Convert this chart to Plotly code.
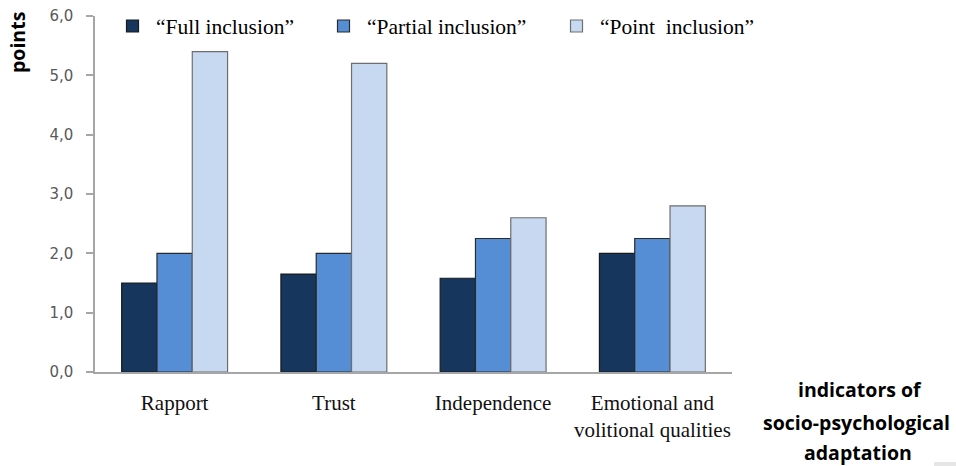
import plotly.graph_objects as go

categories = ["Rapport", "Trust", "Independence", "Emotional and<br>volitional qualities"]
full_inclusion = [1.5, 1.65, 1.58, 2.0]
partial_inclusion = [2.0, 2.0, 2.25, 2.25]
point_inclusion = [5.4, 5.2, 2.6, 2.8]
series_names = ["“Full inclusion”", "“Partial inclusion”", "“Point\u00a0 inclusion”"]
series_values = [full_inclusion, partial_inclusion, point_inclusion]
colors = ["#17365D", "#558ED5", "#C6D9F1"]
line_colors = ["#1a1a1a", "#2b2b2b", "#6e6e6e"]
legend_ids = ["legend", "legend2", "legend3"]
legend_x_px = [109, 320, 553]
y_ticks = [0, 1, 2, 3, 4, 5, 6]
x_title_lines = ["indicators of", "socio-psychological", "adaptation"]

SERIF = "Liberation Serif, Times New Roman, serif"
BOLD = "Open Sans, Arial, sans-serif"

fig = go.Figure()
for name, vals, c, lc, lg in zip(series_names, series_values, colors, line_colors, legend_ids):
    fig.add_trace(go.Bar(
        x=categories, y=vals, name=name,
        marker=dict(color=c, line=dict(color=lc, width=1.2)),
        legend=lg,
        hoverinfo="x+y+name",
    ))

W, H = 956, 466
L, R, T, B = 95, 224, 16, 94
pw, ph = W - L - R, H - T - B

def px_x(x):
    return (x - L) / pw

def px_y(y):
    return (H - B - y) / ph

annotations = [
    dict(text="<b>points</b>", x=px_x(17), y=px_y(43), xref="paper", yref="paper",
         textangle=-90, showarrow=False, font=dict(family=BOLD, size=19.5, color="#000000"),
         xanchor="center", yanchor="middle"),
]
for line, (cx, cy) in zip(x_title_lines, [(860, 389), (856, 422), (858, 452)]):
    annotations.append(dict(text="<b>%s</b>" % line, x=px_x(cx), y=px_y(cy),
                            xref="paper", yref="paper", showarrow=False,
                            font=dict(family=BOLD, size=19.5, color="#000000"),
                            xanchor="center", yanchor="middle"))

legend_common = dict(orientation="h", xref="container", yref="container",
                     y=1 - 26 / H, xanchor="left", yanchor="middle", itemwidth=37,
                     font=dict(family=SERIF, size=21.5, color="#000000"),
                     bgcolor="rgba(0,0,0,0)")
legends = {lg: dict(legend_common, x=xp / W) for lg, xp in zip(legend_ids, legend_x_px)}

fig.update_layout(
    width=W, height=H,
    margin=dict(l=L, r=R, t=T, b=B, pad=0, autoexpand=False),
    paper_bgcolor="white", plot_bgcolor="white",
    barmode="group", bargap=0.335, bargroupgap=0,
    separators=",.",
    showlegend=True,
    xaxis=dict(showline=True, linecolor="#a6a6a6", linewidth=1.5, ticks="",
               showgrid=False, zeroline=False,
               tickfont=dict(family=SERIF, size=21, color="#111111"),
               ticklabelstandoff=11),
    yaxis=dict(range=[0, 6], tickvals=y_ticks, tickformat=".1f",
               showline=True, linecolor="#a6a6a6", linewidth=1.5,
               ticks="outside", ticklen=7, tickcolor="#a6a6a6", tickwidth=1.5,
               showgrid=False, zeroline=False,
               tickfont=dict(family="DejaVu Sans, Verdana, sans-serif", size=15, color="#595959"),
               ticklabelstandoff=10),
    annotations=annotations,
    shapes=[dict(type="rect", xref="paper", yref="paper",
                 x0=px_x(934), x1=px_x(956), y0=px_y(462), y1=px_y(466),
                 fillcolor="#e6e6e6", line=dict(width=0))],
    **legends,
)

fig.write_html("out.html", config={"displayModeBar": False},
               post_script="document.body.style.margin='0';document.body.style.overflow='hidden';")
